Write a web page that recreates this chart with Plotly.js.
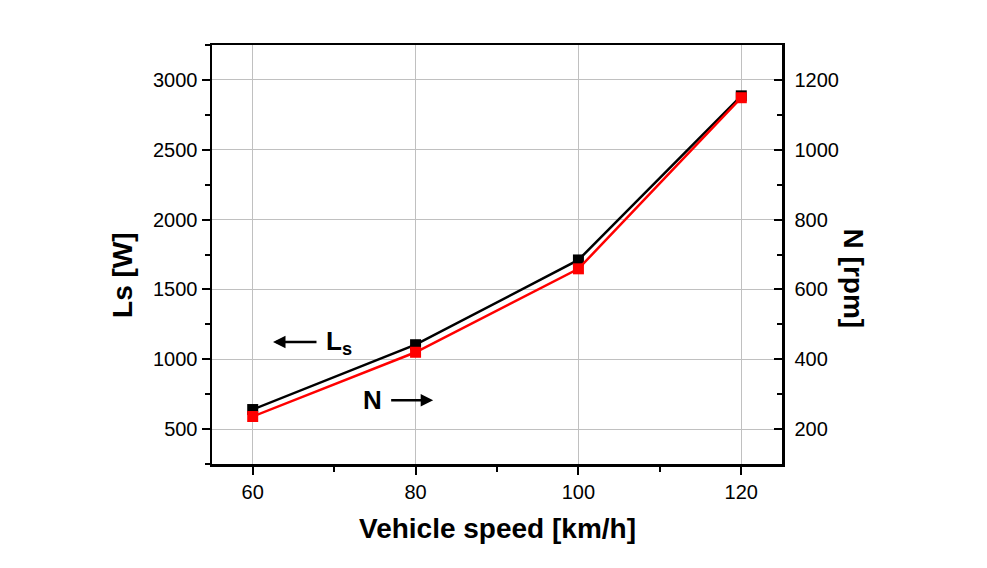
<!DOCTYPE html>
<html>
<head>
<meta charset="utf-8">
<script src="https://cdn.plot.ly/plotly-3.0.1.min.js"></script>
<style>
  html, body { margin: 0; padding: 0; background: #fff; }
  #graph { width: 987px; height: 568px; }
</style>
</head>
<body>
<div id="graph"></div>
<script>
// valores
const speed = [60, 80, 100, 120];
const lsPower = [640, 1104, 1711, 2886];
const nRpm = [236, 420, 659, 1149];

const xTicks = [60, 80, 100, 120];
const lsTicks = [500, 1000, 1500, 2000, 2500, 3000];
const nTicks = [200, 400, 600, 800, 1000, 1200];

const fontName = "Liberation Sans, Arial, sans-serif";

const data = [
    {
        x: speed, y: lsPower,
        type: "scatter", mode: "lines+markers",
        name: "Ls",
        line: { color: "#000000", width: 2.5 },
        marker: { symbol: "square", size: 11, color: "#000000" },
        yaxis: "y"
    },
    {
        x: speed, y: nRpm,
        type: "scatter", mode: "lines+markers",
        name: "N",
        line: { color: "#ff0000", width: 2.5 },
        marker: { symbol: "square", size: 11, color: "#ff0000" },
        yaxis: "y2"
    }
];

const layout = {
    width: 987, height: 568,
    margin: { l: 212, r: 205, t: 45, b: 104 },
    paper_bgcolor: "#ffffff",
    plot_bgcolor: "#ffffff",
    showlegend: false,
    font: { family: fontName, size: 20, color: "#000" },
    xaxis: {
        range: [55, 125],
        tickmode: "array", tickvals: xTicks,
        ticks: "outside", ticklen: 8, tickwidth: 2, tickcolor: "#000",
        minor: { dtick: 10, tick0: 60, ticks: "outside", ticklen: 5, tickwidth: 2, tickcolor: "#000", showgrid: false },
        showline: true, linewidth: 2.5, linecolor: "#000", mirror: true,
        showgrid: true, gridcolor: "#c0c0c0", gridwidth: 1,
        zeroline: false,
        tickfont: { family: fontName, size: 20, color: "#000" }
    },
    yaxis: {
        range: [250, 3250],
        tickmode: "array", tickvals: lsTicks,
        ticks: "outside", ticklen: 8, tickwidth: 2, tickcolor: "#000",
        minor: { dtick: 250, tick0: 250, ticks: "outside", ticklen: 5, tickwidth: 2, tickcolor: "#000", showgrid: false },
        showline: true, linewidth: 2.5, linecolor: "#000",
        showgrid: true, gridcolor: "#c0c0c0", gridwidth: 1,
        zeroline: false,
        tickfont: { family: fontName, size: 20, color: "#000" }
    },
    yaxis2: {
        overlaying: "y", side: "right",
        range: [100, 1300],
        tickmode: "array", tickvals: nTicks,
        ticks: "inside", ticklen: 8, tickwidth: 2, tickcolor: "#000",
        minor: { dtick: 100, tick0: 100, ticks: "inside", ticklen: 5, tickwidth: 2, tickcolor: "#000", showgrid: false },
        showline: true, linewidth: 2.5, linecolor: "#000",
        showgrid: false, zeroline: false,
        ticklabelstandoff: 6,
        tickfont: { family: fontName, size: 20, color: "#000" }
    },
    annotations: [
        // titulos de ejes
        { text: "<b>Vehicle speed [km/h]</b>", xref: "paper", yref: "paper", x: 0.5, y: -0.153,
          xanchor: "center", yanchor: "middle", showarrow: false, font: { family: fontName, size: 28 } },
        { text: "<b>Ls [W]</b>", xref: "paper", yref: "paper", x: -0.158, y: 0.451, textangle: -90,
          xanchor: "center", yanchor: "middle", showarrow: false, font: { family: fontName, size: 28 } },
        { text: "<b>N [rpm]</b>", xref: "paper", yref: "paper", x: 1.125, y: 0.442, textangle: 90,
          xanchor: "center", yanchor: "middle", showarrow: false, font: { family: fontName, size: 28 } },
        // etiquetas con flecha dentro del grafico
        { text: "<b>L<sub>s</sub></b>", xref: "paper", yref: "paper", x: 0.107, y: 0.291, ax: 66, ay: 0,
          showarrow: true, arrowhead: 2, arrowsize: 1, arrowwidth: 2.5, arrowcolor: "#000",
          standoff: 0, startstandoff: 8, font: { family: fontName, size: 26 } },
        { text: "<b>N</b>", xref: "paper", yref: "paper", x: 0.388, y: 0.152, ax: -61, ay: 0,
          showarrow: true, arrowhead: 2, arrowsize: 1, arrowwidth: 2.5, arrowcolor: "#000",
          standoff: 0, startstandoff: 8, font: { family: fontName, size: 26 } }
    ]
};

Plotly.newPlot("graph", data, layout, { displayModeBar: false, staticPlot: true });
</script>
</body>
</html>
